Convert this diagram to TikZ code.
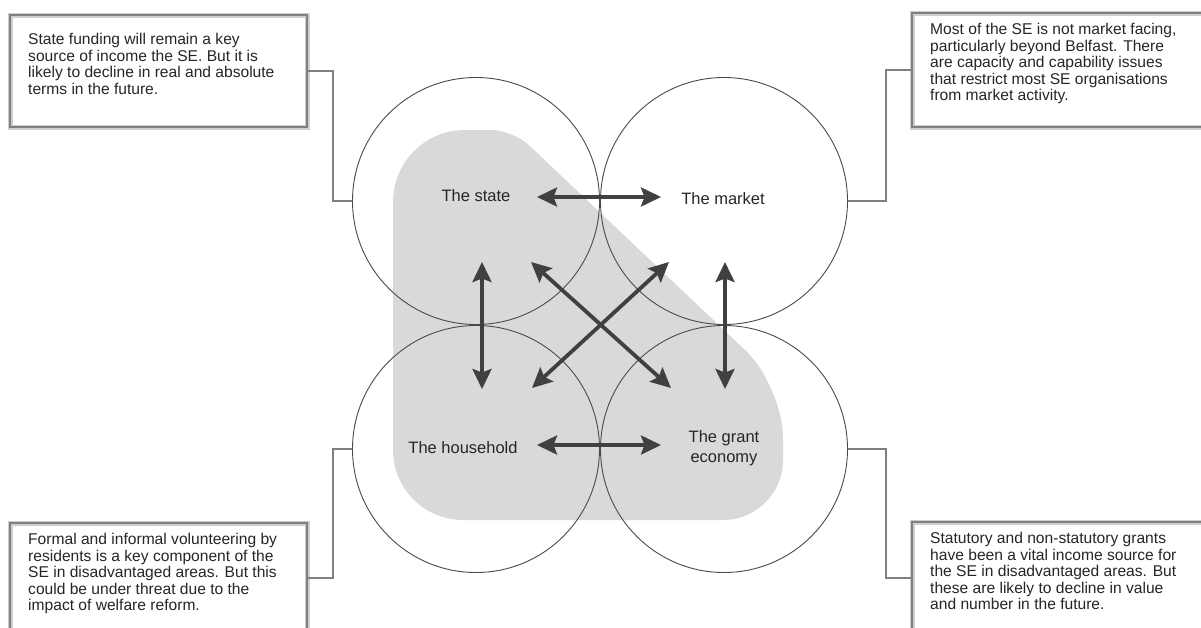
\documentclass[tikz,border=0pt]{standalone}
\usepackage{fontspec}
\setmainfont{Liberation Sans}
\usetikzlibrary{arrows.meta}
\definecolor{shapegrey}{HTML}{D9D9D9}
\definecolor{boxline}{HTML}{808080}
\definecolor{boxhalo}{HTML}{CFCFCF}
\definecolor{arrowcol}{HTML}{404040}
\definecolor{circcol}{HTML}{4A4A4A}
\definecolor{textcol}{HTML}{262626}
\begin{document}
\begin{tikzpicture}[x=1pt,y=-1pt,
  circ/.style={draw=circcol,line width=0.9pt},
  twoway/.style={draw=arrowcol,line width=3.8pt,{Stealth[length=20pt,width=19pt,inset=3.5pt]}-{Stealth[length=20pt,width=19pt,inset=3.5pt]}},
  lab/.style={text=textcol,font=\fontsize{16.5}{20}\selectfont,align=center,inner sep=0pt},
  boxtxt/.style={text=textcol,font=\fontsize{15.6}{16.6}\selectfont,align=left,anchor=north west,inner sep=0pt},
  halo/.style={draw=boxhalo,line width=5pt},
  boxedge/.style={draw=boxline,line width=2.6pt},
  conn/.style={draw=boxline,line width=2.4pt}
]
\useasboundingbox (0,0) rectangle (1201,627);
\clip (0,0) rectangle (1201,627);
\fill[white] (0,0) rectangle (1201,627);

% grey region
\fill[shapegrey] (393,330) [rounded corners=72pt] -- (393,130) [rounded corners=22pt] -- (513,130) [rounded corners=52pt] -- (783,386) [rounded corners=60pt] -- (783,520) [rounded corners=70pt] -- (393,520) [sharp corners] -- cycle;

% circles
\node[circ,circle,minimum size=247pt,inner sep=0pt] (cs) at (476,201) {};
\node[circ,circle,minimum size=247pt,inner sep=0pt] (cm) at (724,201) {};
\node[circ,circle,minimum size=247pt,inner sep=0pt] (ch) at (476,449) {};
\node[circ,circle,minimum size=247pt,inner sep=0pt] (cg) at (724,449) {};

% labels
\node[lab] (state) at (476,196) {The state};
\node[lab] (market) at (723,199) {The market};
\node[lab] (house) at (463,448) {The household};
\node[lab] (grant) at (724,448) {The grant\\economy};

% arrow end points
\coordinate (a1) at (537,197); \coordinate (a2) at (661,197);
\coordinate (b1) at (537,445); \coordinate (b2) at (661,445);
\coordinate (c1) at (482,262); \coordinate (c2) at (482,389);
\coordinate (d1) at (725,262); \coordinate (d2) at (725,389);
\coordinate (e1) at (531,262); \coordinate (e2) at (671,388);
\coordinate (f1) at (669,262); \coordinate (f2) at (532,388);
\draw[twoway] (a1) -- (a2);
\draw[twoway] (b1) -- (b2);
\draw[twoway] (c1) -- (c2);
\draw[twoway] (d1) -- (d2);
\draw[twoway] (e1) -- (e2);
\draw[twoway] (f1) -- (f2);

% boxes
\path[halo] (10,15) rectangle (307,127);
\path[boxedge] (10,15) rectangle (307,127);
\node[boxtxt] (t1) at (28,33) {State funding will remain a key\\source of income the SE. But it is\\likely to decline in real and absolute\\terms in the future.};

\path[halo] (912,13) rectangle (1230,127);
\path[boxedge] (912,13) rectangle (1230,127);
\node[boxtxt] (t2) at (930,23) {Most of the SE is not market facing,\\particularly beyond Belfast. There\\are capacity and capability issues\\that restrict most SE organisations\\from market activity.};

\path[halo] (10,523) rectangle (307,650);
\path[boxedge] (10,523) rectangle (307,650);
\node[boxtxt] (t3) at (28,533) {Formal and informal volunteering by\\residents is a key component of the\\SE in disadvantaged areas. But this\\could be under threat due to the\\impact of welfare reform.};

\path[halo] (912,522) rectangle (1230,650);
\path[boxedge] (912,522) rectangle (1230,650);
\node[boxtxt] (t4) at (930,532) {Statutory and non-statutory grants\\have been a vital income source for\\the SE in disadvantaged areas. But\\these are likely to decline in value\\and number in the future.};

% connectors
\coordinate (k1) at (307,71);
\coordinate (k2) at (912,70);
\coordinate (k3) at (307,578);
\coordinate (k4) at (912,578);
\draw[conn] (k1) -- (333,71) -- (333,201) -- (cs.west);
\draw[conn] (k2) -- (886,70) -- (886,201) -- (cm.east);
\draw[conn] (k3) -- (333,578) -- (333,449) -- (ch.west);
\draw[conn] (k4) -- (886,578) -- (886,449) -- (cg.east);
\end{tikzpicture}
\end{document}
